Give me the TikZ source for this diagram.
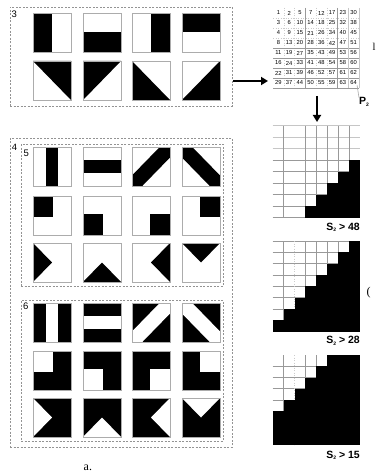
\documentclass[tikz,border=0pt]{standalone}
\usepackage{fontspec}
\setmainfont{Liberation Sans}
\newfontfamily\serifface{Liberation Serif}
\newfontfamily\monoface{Liberation Mono}
\usetikzlibrary{arrows.meta}

\tikzset{
  dbox/.style={draw=gray!85, dash pattern=on 2pt off 1.5pt, line width=0.6pt, inner sep=0pt, outer sep=0pt, anchor=north west},
  tileframe/.style={draw=gray!65, line width=0.7pt},
  arr/.style={-{Triangle[length=7pt,width=8pt]}, line width=1.8pt},
  boxlabel/.style={inner sep=0pt, anchor=north west},
  slabel/.style={font=\fontsize{10.5}{11}\selectfont\bfseries, inner sep=0pt, anchor=base east},
  gline/.style={draw=gray!80, line width=0.7pt},
  lgline/.style={draw=gray!45, line width=0.9pt},
  dgline/.style={draw=gray!40, line width=0.5pt, dotted},
  mnum/.style={font=\fontsize{5.8}{6}\selectfont, inner sep=0pt},
  captext/.style={inner sep=0pt, anchor=base west},
}

\newcommand{\mytile}[3]{\begin{scope}[shift={(#1,#2)},x=38pt,y=-39pt]#3\draw[tileframe](0,0) rectangle (1,1);\end{scope}}

\newcommand{\shp}[2]{\ifcase#1\or
  \fill[#2] (1/3,0) rectangle (2/3,1);\or
  \fill[#2] (0,1/3) rectangle (1,2/3);\or
  \fill[#2] (0,1)--(0,0.73)--(0.73,0)--(1,0)--(1,0.27)--(0.27,1)--cycle;\or
  \fill[#2] (0,0)--(0.27,0)--(1,0.73)--(1,1)--(0.73,1)--(0,0.27)--cycle;\or
  \fill[#2] (0,0) rectangle (0.53,0.55);\or
  \fill[#2] (0,0.45) rectangle (0.53,1);\or
  \fill[#2] (0.47,0.45) rectangle (1,1);\or
  \fill[#2] (0.47,0) rectangle (1,0.55);\or
  \fill[#2] (0,0)--(0.5,0.5)--(0,1)--cycle;\or
  \fill[#2] (0,1)--(0.5,0.5)--(1,1)--cycle;\or
  \fill[#2] (1,0)--(0.5,0.5)--(1,1)--cycle;\or
  \fill[#2] (0,0)--(0.5,0.5)--(1,0)--cycle;\fi}

\begin{document}
\begin{tikzpicture}[x=1pt,y=-1pt]
\fill[white] (0,0) rectangle (379,476);
\useasboundingbox (0,0) rectangle (379,476);

% ---------- dashed boxes ----------
\node[dbox, minimum width=222pt, minimum height=99pt] (box3) at (10,7) {};
\node[dbox, minimum width=222pt, minimum height=309pt] (box4) at (10,138) {};
\node[dbox, minimum width=202pt, minimum height=142pt] (box5) at (21,144) {};
\node[dbox, minimum width=202pt, minimum height=141pt] (box6) at (21,300) {};

\node[boxlabel, font=\fontsize{9.5}{10}\selectfont] (l3) at (11.5,11) {3};
\node[boxlabel, font=\monoface\fontsize{9.5}{10}\selectfont] (l4) at (11.5,144) {4};
\node[boxlabel, font=\fontsize{9.5}{10}\selectfont] (l5) at (23.5,149.5) {5};
\node[boxlabel, font=\fontsize{9.5}{10}\selectfont] (l6) at (23,303) {6};

% ---------- box 3 tiles ----------
\mytile{33}{13}{\fill (0,0) rectangle (0.5,1);}
\mytile{83}{13}{\fill (0,0.5) rectangle (1,1);}
\mytile{132}{13}{\fill (0.5,0) rectangle (1,1);}
\mytile{182}{13}{\fill (0,0) rectangle (1,0.5);}
\mytile{33}{61}{\fill (0,0)--(1,0)--(1,1)--cycle;}
\mytile{83}{61}{\fill (0,0)--(1,0)--(0,1)--cycle;}
\mytile{132}{61}{\fill (0,0)--(0,1)--(1,1)--cycle;}
\mytile{182}{61}{\fill (1,0)--(1,1)--(0,1)--cycle;}

% ---------- box 5 and box 6 tiles ----------
\foreach \r/\ya/\yb in {0/147/303,1/196/351,2/243/398}
  \foreach \c/\x in {1/33,2/83,3/132,4/182}{
    \pgfmathtruncatemacro\n{\r*4+\c}
    \mytile{\x}{\ya}{\shp{\n}{black}}
    \mytile{\x}{\yb}{\fill (0,0) rectangle (1,1);\shp{\n}{white}}
  }

% ---------- matrix P2 ----------
\def\mx{273}\def\mw{10.75}\def\my{8}\def\mh{10}
\foreach \k in {1,...,7}{
  \draw[dgline] ({\mx+\k*\mw},\my) -- ({\mx+\k*\mw},{\my+8*\mh});
  \draw[dgline] (\mx,{\my+\k*\mh}) -- ({\mx+8*\mw},{\my+\k*\mh});
}
\foreach \k in {4,5,6,7,8}
  \draw[gline] (\mx,{\my+\k*\mh}) -- ({\mx+8*\mw},{\my+\k*\mh});
\foreach \k in {3,6}
  \draw[gline] ({\mx+\k*\mw},\my) -- ({\mx+\k*\mw},{\my+8*\mh});
\foreach \k in {7,8}
  \draw[lgline] ({\mx+\k*\mw},\my) -- ({\mx+\k*\mw},{\my+8*\mh});
\foreach \row [count=\i] in {{1,2,5,7,12,17,23,30},{3,6,10,14,18,25,32,38},{4,9,15,21,26,34,40,45},{8,13,20,28,36,42,47,51},{11,19,27,35,43,49,53,56},{16,24,33,41,48,54,58,60},{22,31,39,46,52,57,61,62},{29,37,44,50,55,59,63,64}}
  \foreach \v [count=\j] in \row
    \node[mnum] (m\i-\j) at ({\mx+(\j-0.5)*\mw},{\my+(\i-0.5)*\mh}) {\v};
\node[inner sep=0pt, anchor=base west, font=\fontsize{10.5}{11}\selectfont\bfseries] (p2) at (359,105) {P\raisebox{-1.5pt}{\fontsize{5}{5}\selectfont 2}};
\draw[gray!70, line width=0.6pt] (m8-8.south east) -- (p2.north west);

% ---------- arrows ----------
\coordinate (a1s) at (233,81);
\coordinate (a1e) at (268,81);
\draw[arr] (a1s) -- (a1e);
\coordinate (a2s) at (317,96);
\coordinate (a2e) at (317,122);
\draw[arr] (a2s) -- (a2e);

% ---------- threshold grids ----------
\def\gx{272.7}\def\gw{10.91}
% grid 1
\def\gy{125.7}\def\gh{11.5}
\foreach \k in {0,1,2} \draw[lgline] (\gx,{\gy+\k*\gh}) -- ({\gx+8*\gw},{\gy+\k*\gh});
\foreach \k in {3,...,8} \draw[gline] (\gx,{\gy+\k*\gh}) -- ({\gx+8*\gw},{\gy+\k*\gh});
\foreach \k in {1,3,4,5,6,7} \draw[gline] ({\gx+\k*\gw},\gy) -- ({\gx+\k*\gw},{\gy+8*\gh});
\foreach \i/\s in {4/7,5/6,6/5,7/4,8/3}
  \fill ({\gx+\s*\gw},{\gy+(\i-1)*\gh}) rectangle ({\gx+8*\gw},{\gy+\i*\gh+0.3});
\node[slabel] (s1) at (360,230) {S\raisebox{-1.5pt}{\fontsize{5}{5}\selectfont 2} > 48};
% grid 2
\def\gy{241}\def\gh{11.35}
\foreach \k in {0,...,7} \draw[gline] (\gx,{\gy+\k*\gh}) -- ({\gx+8*\gw},{\gy+\k*\gh});
\foreach \k in {1,3,4,5,6,7} \draw[gline] ({\gx+\k*\gw},\gy) -- ({\gx+\k*\gw},{\gy+8*\gh});
\draw[dgline] ({\gx+2*\gw},\gy) -- ({\gx+2*\gw},{\gy+8*\gh});
\foreach \i in {1,...,8}
  \fill ({\gx+(8-\i)*\gw},{\gy+(\i-1)*\gh}) rectangle ({\gx+8*\gw},{\gy+\i*\gh+0.3});
\node[slabel] (s2) at (360,343.5) {S\raisebox{-1.5pt}{\fontsize{5}{5}\selectfont 2} > 28};
% grid 3
\def\gy{355}\def\gh{11.25}
\foreach \k in {1,...,5} \draw[gline] (\gx,{\gy+\k*\gh}) -- ({\gx+8*\gw},{\gy+\k*\gh});
\foreach \k in {1,3,4,5,6,7} \draw[gline] ({\gx+\k*\gw},\gy) -- ({\gx+\k*\gw},{\gy+8*\gh});
\draw[dgline] ({\gx+2*\gw},\gy) -- ({\gx+2*\gw},{\gy+8*\gh});
\foreach \i/\s in {1/5,2/4,3/3,4/2,5/1,6/0,7/0,8/0}
  \fill ({\gx+\s*\gw},{\gy+(\i-1)*\gh}) rectangle ({\gx+8*\gw},{\gy+\i*\gh+0.3});
\node[slabel] (s3) at (360,458) {S\raisebox{-1.5pt}{\fontsize{5}{5}\selectfont 2} > 15};

% ---------- captions ----------
\node[captext, font=\serifface\fontsize{12}{12}\selectfont] (capa) at (83.5,470.5) {a.};
\node[captext, font=\serifface\fontsize{10.5}{11}\selectfont] (capb) at (372.5,50.5) {l};
\node[captext, font=\serifface\fontsize{12}{12}\selectfont] (capc) at (366.5,295) {(};
\end{tikzpicture}
\end{document}
